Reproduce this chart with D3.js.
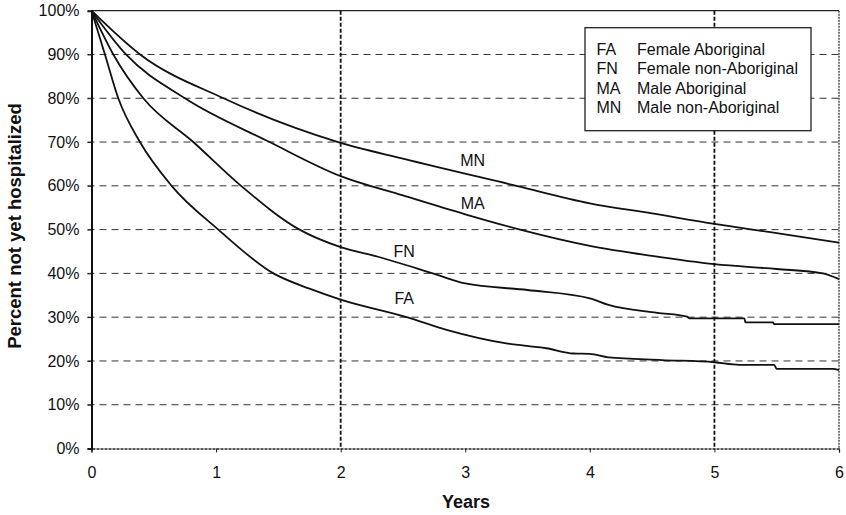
<!DOCTYPE html>
<html>
<head>
<meta charset="utf-8">
<script src="https://cdn.jsdelivr.net/npm/d3@7"></script>
<style>
  body { margin: 0; background: #fff; }
  svg { display: block; font-family: "Liberation Sans", Arial, Helvetica, sans-serif; }
</style>
</head>
<body>
<div id="grafico"></div>
<script>
// valores: [anos, percentual]
const yearTicks = [0, 1, 2, 3, 4, 5, 6];
const pctTicks = [0, 10, 20, 30, 40, 50, 60, 70, 80, 90, 100];
const refYears = [2, 5];

const serieMN = [[0,100],[0.39,90],[1.06,80],[1.98,70],[2.5,66.2],[3.41,60],[4.0,56],[4.5,53.7],[5,51.3],
  [5.5,49.2],[6,47]];
const serieMA = [[0,100],[0.277,90],[0.75,80],[1.43,70],[2.0,62.2],[2.5,57.8],[3.0,53.5],[3.44,50],[4.0,46.3],
  [4.5,44.0],[5,42.1],[5.5,41],[5.87,40],[6,38.7]];
const serieFN = [[0,100],[0.175,90],[0.416,80],[0.817,70],[1.2,60],[1.67,50],[2.0,46],[2.3,43.8],[2.74,40],
  [3.0,37.7],[3.5,36.2],[4.0,34.3],[4.15,32.8],[4.54,31],[4.78,30.1],[4.8,29.7],[5.24,29.7],[5.25,28.8],
  [5.47,28.8],[5.48,28.4],[6,28.4]];
const serieFA = [[0,100],[0.108,90],[0.215,80],[0.389,70],[0.643,60],[1.018,50],[1.46,40],[1.75,36.5],[2.0,34],
  [2.53,30],[2.85,27.1],[3.33,24],[3.65,22.9],[3.87,21.7],[4.0,21.6],[4.15,20.8],[4.58,20.2],[5.0,19.7],
  [5.2,19.1],[5.48,19.1],[5.5,18.2],[5.95,18.2],[6,17.9]];

const series = [serieMN, serieMA, serieFN, serieFA];
const rotulos = ["MN", "MA", "FN", "FA"];
const rotuloPos = [[3.06, 64.6], [3.06, 54.6], [2.51, 43.8], [2.51, 32.9]]; // posição do texto (anos, %)

const legendaCodigos = ["FA", "FN", "MA", "MN"];
const legendaNomes = ["Female Aboriginal", "Female non-Aboriginal", "Male Aboriginal", "Male non-Aboriginal"];

const width = 846, height = 515;

const svg = d3.select("#grafico")
  .append("svg")
  .attr("width", width)
  .attr("height", height);

svg.append("rect").attr("width", width).attr("height", height).attr("fill", "#fff");

const x = d3.scaleLinear().domain([0, 6]).range([91.5, 839]);
const y = d3.scaleLinear().domain([0, 100]).range([448.5, 10.7]);

// linhas de grade horizontais
svg.append("g")
  .selectAll("line")
  .data(pctTicks.filter(d => d > 0 && d < 100))
  .enter()
  .append("line")
  .attr("x1", x(0) - 4)
  .attr("x2", x(6))
  .attr("y1", d => y(d))
  .attr("y2", d => y(d))
  .attr("stroke", "#333")
  .attr("stroke-width", 1)
  .attr("stroke-dasharray", "7,5");

// linhas verticais em 2 e 5 anos
svg.append("g")
  .selectAll("line")
  .data(refYears)
  .enter()
  .append("line")
  .attr("x1", d => x(d))
  .attr("x2", d => x(d))
  .attr("y1", y(100))
  .attr("y2", y(0))
  .attr("stroke", "#111")
  .attr("stroke-width", 1.8)
  .attr("stroke-dasharray", "4,2");

// borda superior e direita
svg.append("line")
  .attr("x1", x(0)).attr("x2", x(6))
  .attr("y1", y(100)).attr("y2", y(100))
  .attr("stroke", "#222").attr("stroke-width", 1.3);
svg.append("line")
  .attr("x1", x(6)).attr("x2", x(6))
  .attr("y1", y(100)).attr("y2", y(0))
  .attr("stroke", "#222").attr("stroke-width", 1.2)
  .attr("stroke-dasharray", "2,1");

// eixo x
const eixoX = svg.append("g")
  .attr("transform", `translate(0,${y(0)})`)
  .call(d3.axisBottom(x).tickValues(yearTicks).tickSize(4).tickPadding(14).tickFormat(d3.format("d")));
eixoX.select(".domain").attr("stroke", "#222").attr("stroke-width", 1.3).attr("stroke-dasharray", "3,1");
eixoX.selectAll(".tick line").attr("stroke", "#222");
eixoX.selectAll("text").attr("font-size", 16).attr("fill", "#111").attr("font-family", null);

// eixo y
const eixoY = svg.append("g")
  .attr("transform", `translate(${x(0)},0)`)
  .call(d3.axisLeft(y).tickValues(pctTicks).tickSize(4).tickPadding(8).tickFormat(d => d + "%"));
eixoY.select(".domain").attr("stroke", "#111").attr("stroke-width", 2);
eixoY.selectAll(".tick line").attr("stroke", "#222");
eixoY.selectAll("text").attr("font-size", 16).attr("fill", "#111").attr("font-family", null);

// curvas
const linha = d3.line()
  .x(d => x(d[0]))
  .y(d => y(d[1]))
  .curve(d3.curveMonotoneX);

svg.append("g")
  .selectAll("path")
  .data(series)
  .enter()
  .append("path")
  .attr("d", linha)
  .attr("fill", "none")
  .attr("stroke", "#111")
  .attr("stroke-width", 1.8);

// rótulos das curvas
svg.append("g")
  .selectAll("text")
  .data(rotulos)
  .enter()
  .append("text")
  .attr("x", (d, i) => x(rotuloPos[i][0]))
  .attr("y", (d, i) => y(rotuloPos[i][1]))
  .attr("text-anchor", "middle")
  .attr("font-size", 16)
  .attr("fill", "#111")
  .text(d => d);

// legenda
const legenda = svg.append("g");
legenda.append("rect")
  .attr("x", 585).attr("y", 27.7)
  .attr("width", 226).attr("height", 103)
  .attr("fill", "#fff")
  .attr("stroke", "#222")
  .attr("stroke-width", 1.3);

const itens = legenda.selectAll(".item")
  .data(legendaCodigos)
  .enter()
  .append("g")
  .attr("class", "item")
  .attr("transform", (d, i) => `translate(0,${55 + i * 19.4})`);

itens.append("text")
  .attr("x", 596.5)
  .attr("font-size", 16)
  .attr("fill", "#111")
  .text(d => d);

itens.append("text")
  .attr("x", 637)
  .attr("font-size", 16)
  .attr("fill", "#111")
  .text((d, i) => legendaNomes[i]);

// títulos dos eixos
svg.append("text")
  .attr("x", 466)
  .attr("y", 508)
  .attr("text-anchor", "middle")
  .attr("font-size", 18)
  .attr("font-weight", "bold")
  .attr("fill", "#111")
  .text("Years");

svg.append("text")
  .attr("transform", "translate(21,226) rotate(-90)")
  .attr("text-anchor", "middle")
  .attr("font-size", 18.5)
  .attr("font-weight", "bold")
  .attr("fill", "#111")
  .text("Percent not yet hospitalized");
</script>
</body>
</html>
